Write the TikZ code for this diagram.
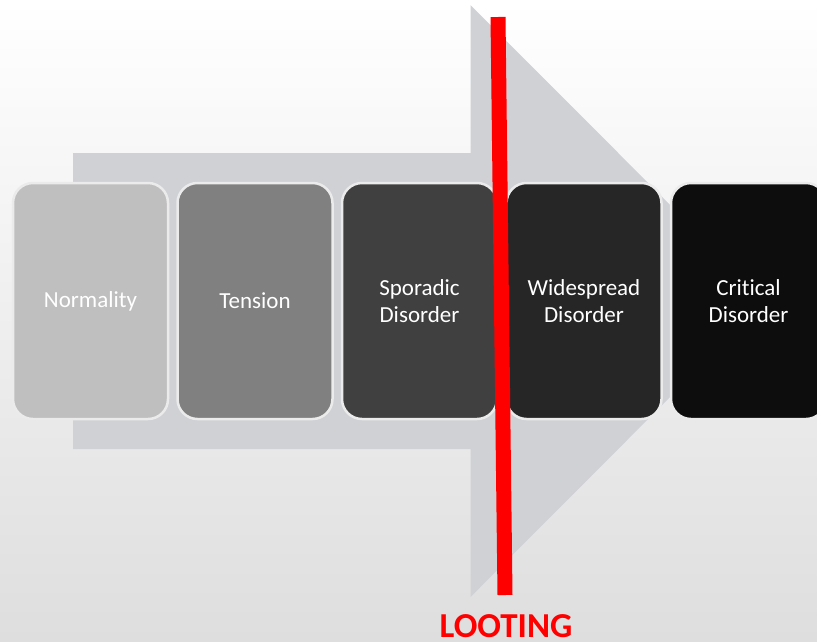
\documentclass[tikz,border=0pt]{standalone}
\usepackage{fontspec}
\setmainfont{Carlito}[Ligatures={NoCommon}]
\begin{document}
\begin{tikzpicture}[x=1pt,y=-1pt,
  stage/.style={draw=black!8, line width=2.5pt, rounded corners=20pt,
    minimum width=155pt, minimum height=236pt, inner sep=0pt,
    text=white, align=center, font=\fontsize{23}{26.5}\selectfont},
  bigarrow/.style={fill=arrowgray, draw=none}]
\definecolor{arrowgray}{HTML}{D0D1D5}
\definecolor{bgbottom}{HTML}{DEDEDE}
\definecolor{lootred}{HTML}{FF0000}
\useasboundingbox (0,0) rectangle (817,641);
\clip (0,0) rectangle (817,641);
\shade[top color=white, bottom color=bgbottom] (0,0) rectangle (817,641);
% big arrow
\fill[bigarrow] (73,153) -- (470.5,153) -- (470.5,5) -- (766,301) -- (470.5,597) -- (470.5,449) -- (73,449) -- cycle;
% stages
\node[stage, fill=black!25] (n1) at (90.5,301) {Normality};
\node[stage, fill=black!50] (n2) at (255,301) {Tension};
\node[stage, fill=black!75] (n3) at (419.5,301) {Sporadic\\Disorder};
\node[stage, fill=black!85] (n4) at (584,301) {Widespread\\Disorder};
\node[stage, fill=black!95] (n5) at (748.5,301) {Critical\\Disorder};
% looting line
\coordinate (ltop) at (498,17);
\coordinate (lbot) at (505,595);
\draw[lootred, line width=15pt] (ltop) -- (lbot);
\node[anchor=base, text=lootred, inner sep=0pt, font=\fontsize{35}{40}\selectfont\bfseries] (loot) at (506,637.5) {LOOTING};
\end{tikzpicture}
\end{document}
